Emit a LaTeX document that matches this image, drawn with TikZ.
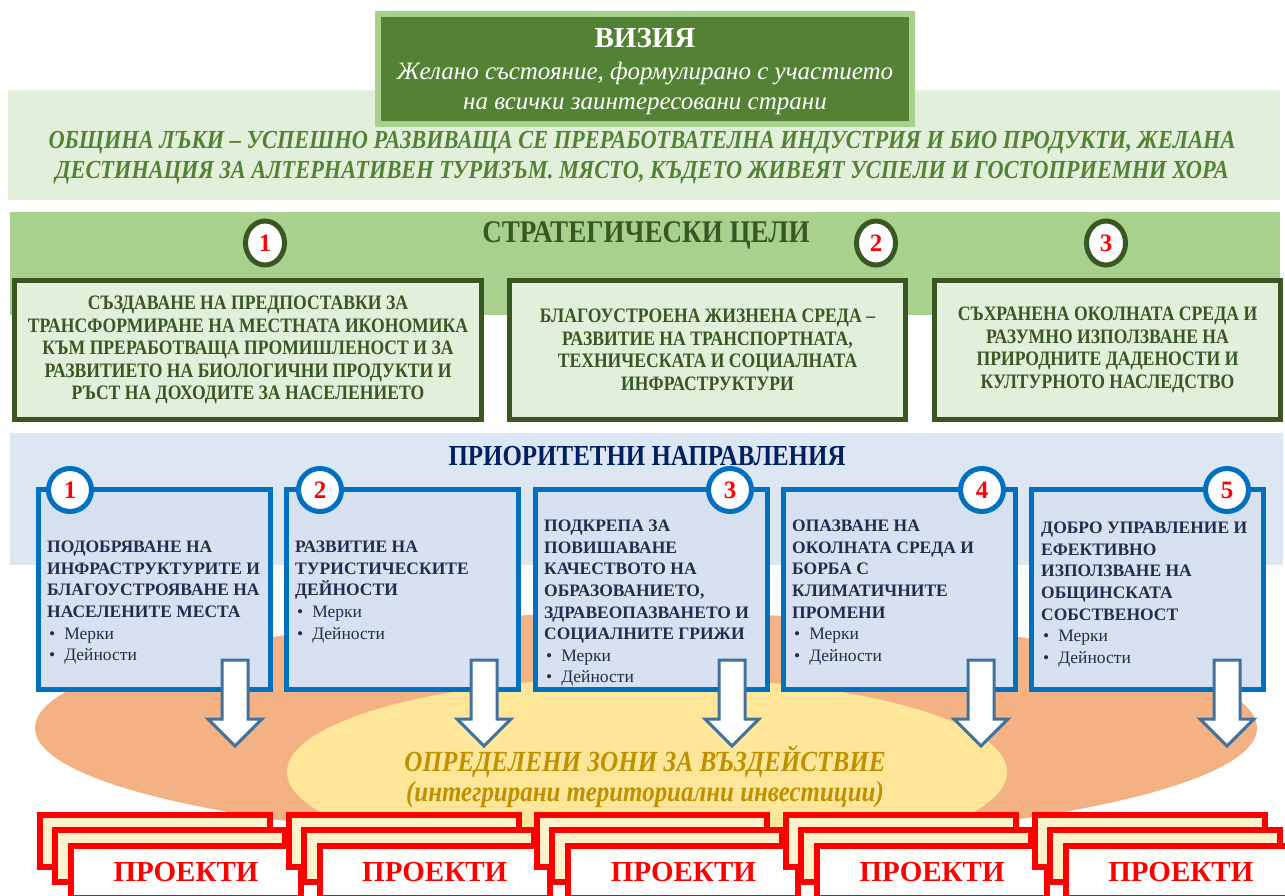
\documentclass[tikz,border=0pt]{standalone}
\usepackage{fontspec}
\setmainfont{Liberation Serif}
\newfontfamily\narrowserif[FakeStretch=0.86]{Liberation Serif}
\usepackage{tikz}
\usetikzlibrary{shapes.geometric, positioning}
\usepackage{xcolor}
\definecolor{visiondark}{RGB}{84, 130, 53}
\definecolor{visionlight}{RGB}{169, 209, 142}
\definecolor{palegreen}{RGB}{226, 239, 218}
\definecolor{goalgreen}{RGB}{56, 87, 35}
\definecolor{paleblue}{RGB}{221, 231, 244}
\definecolor{boxblue}{RGB}{216, 225, 242}
\definecolor{borderblue}{RGB}{0, 112, 192}
\definecolor{navytitle}{RGB}{0, 32, 96}
\definecolor{prioritytext}{RGB}{34, 45, 75}
\definecolor{zoneorange}{RGB}{244, 177, 131}
\definecolor{zoneyellow}{RGB}{255, 230, 153}
\definecolor{zonegold}{RGB}{191, 144, 0}
\definecolor{arrowsteel}{RGB}{65, 113, 156}
\definecolor{projectcream}{RGB}{255, 242, 204}
\newcommand{\prbullet}[1]{\hspace*{2pt}\mdseries\textbullet\hspace{9pt}#1}

\begin{document}
\begin{tikzpicture}[x=1pt, y=-1pt,
    goalbox/.style={draw=goalgreen, fill=palegreen, line width=5pt, inner sep=0pt,
        align=center, text=goalgreen, font=\narrowserif\bfseries\fontsize{20.5}{22.5}\selectfont},
    goalnum/.style={ellipse, draw=goalgreen, line width=5pt, fill=white, inner sep=0pt,
        minimum width=39pt, minimum height=44pt, text=red, font=\bfseries\fontsize{25}{25}\selectfont},
    prbox/.style={draw=borderblue, fill=boxblue, line width=5pt, inner sep=0pt,
        minimum width=232pt, minimum height=200pt},
    prnum/.style={circle, draw=borderblue, line width=5pt, fill=white, inner sep=0pt,
        minimum size=43pt, text=red, font=\bfseries\fontsize{25}{25}\selectfont},
    prtext/.style={anchor=north west, inner sep=0pt, align=left, text=prioritytext,
        font=\bfseries\fontsize{17.5}{21.6}\selectfont},
    blockarrow/.style={draw=arrowsteel, fill=white, line width=3pt},
    projback/.style={draw=red, fill=projectcream, line width=6pt, inner sep=0pt,
        minimum width=230pt, minimum height=52pt},
    projfront/.style={projback, fill=white, text=red, font=\bfseries\fontsize{29}{29}\selectfont}
]
    \clip (0,0) rectangle (1285,895);

    % Vision
    \fill[palegreen] (8,90) rectangle (1280,200);
    \node[draw=visionlight, fill=visiondark, line width=6pt, minimum width=534pt, minimum height=110pt] (vision) at (645,69) {};
    \node[text=white, font=\bfseries\fontsize{29}{29}\selectfont] (visiontitle) at (645,38) {ВИЗИЯ};
    \node[text=white, align=center, font=\itshape\fontsize{25}{30}\selectfont] (visionsub) at (645,88) {Желано състояние, формулирано с участието\\на всички заинтересовани страни};
    \node[text=visiondark, align=center, font=\narrowserif\bfseries\itshape\fontsize{26}{30}\selectfont] (mission) at (642,158)
        {ОБЩИНА ЛЪКИ – УСПЕШНО РАЗВИВАЩА СЕ ПРЕРАБОТВАТЕЛНА ИНДУСТРИЯ И БИО ПРОДУКТИ, ЖЕЛАНА\\ДЕСТИНАЦИЯ ЗА АЛТЕРНАТИВЕН ТУРИЗЪМ. МЯСТО, КЪДЕТО ЖИВЕЯТ УСПЕЛИ И ГОСТОПРИЕМНИ ХОРА};

    % Strategic goals
    \fill[visionlight] (10,212) rectangle (1280,315);
    \node[text=goalgreen, font=\narrowserif\bfseries\fontsize{31.5}{31.5}\selectfont] (goaltitle) at (646,235) {СТРАТЕГИЧЕСКИ ЦЕЛИ};
    \node[goalbox, minimum width=467pt, minimum height=139pt] (goal1) at (248,350)
        {СЪЗДАВАНЕ НА ПРЕДПОСТАВКИ ЗА\\ТРАНСФОРМИРАНЕ НА МЕСТНАТА ИКОНОМИКА\\КЪМ ПРЕРАБОТВАЩА ПРОМИШЛЕНОСТ И ЗА\\РАЗВИТИЕТО НА БИОЛОГИЧНИ ПРОДУКТИ И\\РЪСТ НА ДОХОДИТЕ ЗА НАСЕЛЕНИЕТО};
    \node[goalbox, minimum width=396pt, minimum height=139pt] (goal2) at (707.5,350)
        {БЛАГОУСТРОЕНА ЖИЗНЕНА СРЕДА –\\РАЗВИТИЕ НА ТРАНСПОРТНАТА,\\ТЕХНИЧЕСКАТА И СОЦИАЛНАТА\\ИНФРАСТРУКТУРИ};
    \node[goalbox, minimum width=346pt, minimum height=139pt] (goal3) at (1107.5,350)
        {СЪХРАНЕНА ОКОЛНАТА СРЕДА И\\РАЗУМНО ИЗПОЛЗВАНЕ НА\\ПРИРОДНИТЕ ДАДЕНОСТИ И\\КУЛТУРНОТО НАСЛЕДСТВО};
    \node[goalnum] (gnum1) at (265,243) {1};
    \node[goalnum] (gnum2) at (876,243) {2};
    \node[goalnum] (gnum3) at (1106,243) {3};

    % Priorities and zones
    \fill[paleblue] (10,433) rectangle (1283,565);
    \fill[zoneorange] (646,728) ellipse [x radius=611pt, y radius=115pt];
    \fill[zoneyellow] (647,772) ellipse [x radius=360pt, y radius=95pt];
    \node[text=navytitle, font=\narrowserif\bfseries\fontsize{29}{29}\selectfont] (prtitle) at (647,456) {ПРИОРИТЕТНИ НАПРАВЛЕНИЯ};
    \node[text=zonegold, font=\narrowserif\bfseries\itshape\fontsize{29.2}{29.2}\selectfont] (zonetitle) at (645,762) {ОПРЕДЕЛЕНИ ЗОНИ ЗА ВЪЗДЕЙСТВИЕ};
    \node[text=zonegold, font=\narrowserif\bfseries\itshape\fontsize{29}{29}\selectfont] (zonesub) at (645,795) {(интегрирани териториални инвестиции)};

    \node[prbox] (pr1) at (154.5,589.5) {};
    \node[prbox] (pr2) at (402.8,589.5) {};
    \node[prbox] (pr3) at (651.1,589.5) {};
    \node[prbox] (pr4) at (899.4,589.5) {};
    \node[prbox] (pr5) at (1147.7,589.5) {};
    \node[prnum] (pnum1) at (70,490) {1};
    \node[prnum] (pnum2) at (320,490) {2};
    \node[prnum] (pnum3) at (730,490) {3};
    \node[prnum] (pnum4) at (982,490) {4};
    \node[prnum] (pnum5) at (1227,490) {5};
    \node[prtext] (prtext1) at (47,541)
        {ПОДОБРЯВАНЕ НА\\ИНФРАСТРУКТУРИТЕ И\\БЛАГОУСТРОЯВАНЕ НА\\НАСЕЛЕНИТЕ МЕСТА\\\prbullet{Мерки}\\\prbullet{Дейности}};
    \node[prtext] (prtext2) at (295,541)
        {РАЗВИТИЕ НА\\ТУРИСТИЧЕСКИТЕ\\ДЕЙНОСТИ\\\prbullet{Мерки}\\\prbullet{Дейности}};
    \node[prtext] (prtext3) at (544,520)
        {ПОДКРЕПА ЗА\\ПОВИШАВАНЕ\\КАЧЕСТВОТО НА\\ОБРАЗОВАНИЕТО,\\ЗДРАВЕОПАЗВАНЕТО И\\СОЦИАЛНИТЕ ГРИЖИ\\\prbullet{Мерки}\\\prbullet{Дейности}};
    \node[prtext] (prtext4) at (792,520)
        {ОПАЗВАНЕ НА\\ОКОЛНАТА СРЕДА И\\БОРБА С\\КЛИМАТИЧНИТЕ\\ПРОМЕНИ\\\prbullet{Мерки}\\\prbullet{Дейности}};
    \node[prtext] (prtext5) at (1041,522)
        {ДОБРО УПРАВЛЕНИЕ И\\ЕФЕКТИВНО\\ИЗПОЛЗВАНЕ НА\\ОБЩИНСКАТА\\СОБСТВЕНОСТ\\\prbullet{Мерки}\\\prbullet{Дейности}};

    % Down arrows into the zones
    \draw[blockarrow] (222,660) -- (248,660) -- (248,719) -- (262,719) -- (235,746) -- (208,719) -- (222,719) -- cycle;
    \draw[blockarrow] (471,660) -- (497,660) -- (497,719) -- (511,719) -- (484,746) -- (457,719) -- (471,719) -- cycle;
    \draw[blockarrow] (719,660) -- (745,660) -- (745,719) -- (759,719) -- (732,746) -- (705,719) -- (719,719) -- cycle;
    \draw[blockarrow] (968,660) -- (994,660) -- (994,719) -- (1008,719) -- (981,746) -- (954,719) -- (968,719) -- cycle;
    \draw[blockarrow] (1214,660) -- (1240,660) -- (1240,719) -- (1254,719) -- (1227,746) -- (1200,719) -- (1214,719) -- cycle;

    % Projects
    \node[projback] (projA1) at (155,841) {};
    \node[projback] (projB1) at (170,856) {};
    \node[projfront] (projC1) at (186,872) {ПРОЕКТИ};
    \node[projback] (projA2) at (403.7,841) {};
    \node[projback] (projB2) at (418.7,856) {};
    \node[projfront] (projC2) at (434.7,872) {ПРОЕКТИ};
    \node[projback] (projA3) at (652.4,841) {};
    \node[projback] (projB3) at (667.4,856) {};
    \node[projfront] (projC3) at (683.4,872) {ПРОЕКТИ};
    \node[projback] (projA4) at (901.1,841) {};
    \node[projback] (projB4) at (916.1,856) {};
    \node[projfront] (projC4) at (932.1,872) {ПРОЕКТИ};
    \node[projback] (projA5) at (1149.8,841) {};
    \node[projback] (projB5) at (1164.8,856) {};
    \node[projfront] (projC5) at (1180.8,872) {ПРОЕКТИ};
\end{tikzpicture}
\end{document}
